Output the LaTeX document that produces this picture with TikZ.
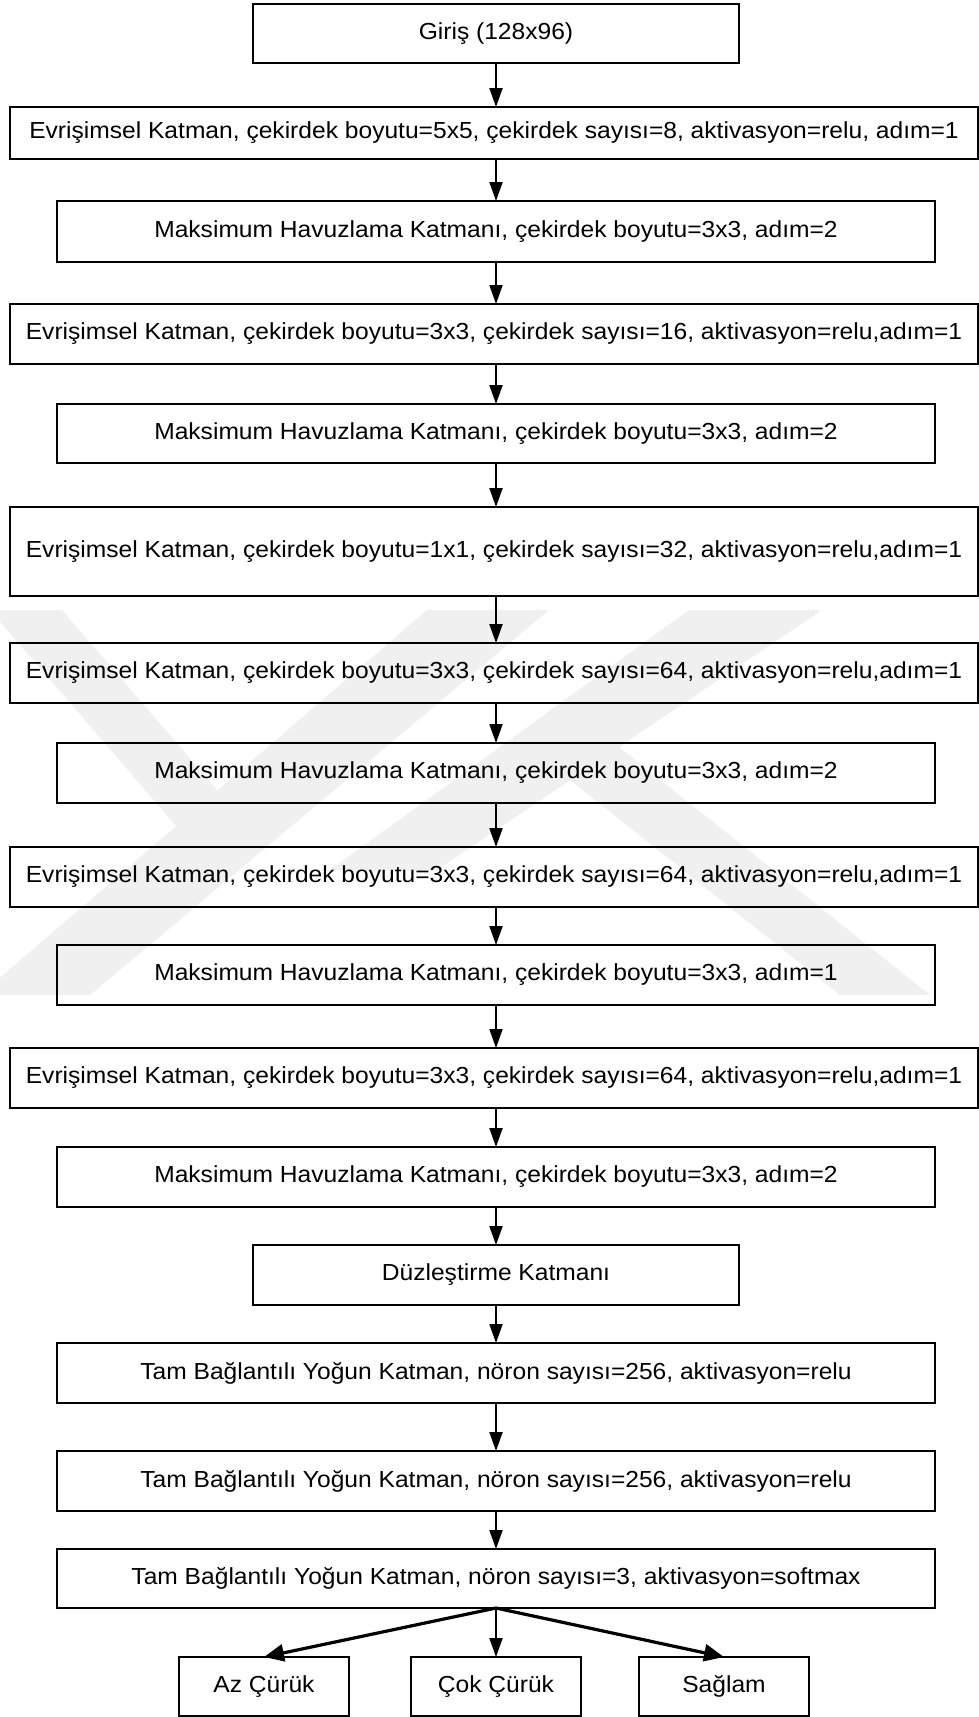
\documentclass[tikz,border=0pt]{standalone}
\usepackage{fontspec}
\setmainfont{Liberation Sans}[FakeStretch=1.06]
\usetikzlibrary{arrows.meta}

\tikzset{
  layer/.style={draw=black, line width=1.3pt, inner sep=0pt, outer sep=0pt,
    align=center, font=\fontsize{23.2}{27}\selectfont},
  convbox/.style={layer, minimum width=968, minimum height=60},
  poolbox/.style={layer, minimum width=878, minimum height=60},
  smallbox/.style={layer, minimum width=486, minimum height=60},
  classbox/.style={layer, minimum width=170, minimum height=59},
  flow/.style={line width=2pt, -{Triangle[length=19pt,width=13pt]}},
  branch/.style={line width=3.2pt, -{Triangle[length=20pt,width=17pt]}},
  mark band/.style={fill=black!6, draw=none}
}

\begin{document}
\begin{tikzpicture}[x=1pt, y=-1pt]
  % page area
  \fill[white] (0,0) rectangle (979,1717);
  \useasboundingbox (0,0) rectangle (979,1717);

  % faint background emblem
  \fill[mark band] (-10,610) -- (62,610) -- (262,842) -- (190,842) -- cycle;
  \fill[mark band] (427,610) -- (549,610) -- (90,995) -- (-20,995) -- cycle;
  \fill[mark band] (689,610) -- (822,610) -- (437,870) -- (330,870) -- cycle;
  \fill[mark band] (560,772) -- (610,740) -- (930,995) -- (840,995) -- cycle;

  % layers
  \node[smallbox, minimum height=59] (inp) at (496,33.5) {Giriş (128x96)};
  \node[convbox, minimum height=52] (c1) at (494,133)
    {Evrişimsel Katman, çekirdek boyutu=5x5, çekirdek sayısı=8, aktivasyon=relu, adım=1};
  \node[poolbox, minimum height=61] (m1) at (496,231.5)
    {Maksimum Havuzlama Katmanı, çekirdek boyutu=3x3, adım=2};
  \node[convbox] (c2) at (494,334)
    {Evrişimsel Katman, çekirdek boyutu=3x3, çekirdek sayısı=16, aktivasyon=relu,adım=1};
  \node[poolbox, minimum height=59] (m2) at (496,433.5)
    {Maksimum Havuzlama Katmanı, çekirdek boyutu=3x3, adım=2};
  \node[convbox, minimum height=89] (c3) at (494,551.5)
    {Evrişimsel Katman, çekirdek boyutu=1x1, çekirdek sayısı=32, aktivasyon=relu,adım=1};
  \node[convbox] (c4) at (494,673)
    {Evrişimsel Katman, çekirdek boyutu=3x3, çekirdek sayısı=64, aktivasyon=relu,adım=1};
  \node[poolbox] (m3) at (496,773)
    {Maksimum Havuzlama Katmanı, çekirdek boyutu=3x3, adım=2};
  \node[convbox] (c5) at (494,877)
    {Evrişimsel Katman, çekirdek boyutu=3x3, çekirdek sayısı=64, aktivasyon=relu,adım=1};
  \node[poolbox] (m4) at (496,975)
    {Maksimum Havuzlama Katmanı, çekirdek boyutu=3x3, adım=1};
  \node[convbox] (c6) at (494,1078)
    {Evrişimsel Katman, çekirdek boyutu=3x3, çekirdek sayısı=64, aktivasyon=relu,adım=1};
  \node[poolbox] (m5) at (496,1177)
    {Maksimum Havuzlama Katmanı, çekirdek boyutu=3x3, adım=2};
  \node[smallbox] (flat) at (496,1275) {Düzleştirme Katmanı};
  \node[poolbox] (fc1) at (496,1373)
    {Tam Bağlantılı Yoğun Katman, nöron sayısı=256, aktivasyon=relu};
  \node[poolbox] (fc2) at (496,1481)
    {Tam Bağlantılı Yoğun Katman, nöron sayısı=256, aktivasyon=relu};
  \node[poolbox, minimum height=59] (fc3) at (496,1578.5)
    {Tam Bağlantılı Yoğun Katman, nöron sayısı=3, aktivasyon=softmax};

  % output classes
  \node[classbox] (az) at (264,1686.5) {Az Çürük};
  \node[classbox] (cok) at (496,1686.5) {Çok Çürük};
  \node[classbox] (saglam) at (724,1686.5) {Sağlam};

  % vertical flow
  \draw[flow] (inp.south) -- (inp.south |- c1.north);
  \draw[flow] (c1.south -| m1.north) -- (m1.north);
  \draw[flow] (m1.south) -- (m1.south |- c2.north);
  \draw[flow] (c2.south -| m2.north) -- (m2.north);
  \draw[flow] (m2.south) -- (m2.south |- c3.north);
  \draw[flow] (c3.south -| m2.south) -- (m2.south |- c4.north);
  \draw[flow] (c4.south -| m3.north) -- (m3.north);
  \draw[flow] (m3.south) -- (m3.south |- c5.north);
  \draw[flow] (c5.south -| m4.north) -- (m4.north);
  \draw[flow] (m4.south) -- (m4.south |- c6.north);
  \draw[flow] (c6.south -| m5.north) -- (m5.north);
  \draw[flow] (m5.south) -- (flat.north);
  \draw[flow] (flat.south) -- (fc1.north);
  \draw[flow] (fc1.south) -- (fc2.north);
  \draw[flow] (fc2.south) -- (fc3.north);

  % branches to the classes
  \draw[branch] (fc3.south) -- (az.north);
  \draw[flow] (fc3.south) -- (cok.north);
  \draw[branch] (fc3.south) -- (saglam.north);
\end{tikzpicture}
\end{document}
